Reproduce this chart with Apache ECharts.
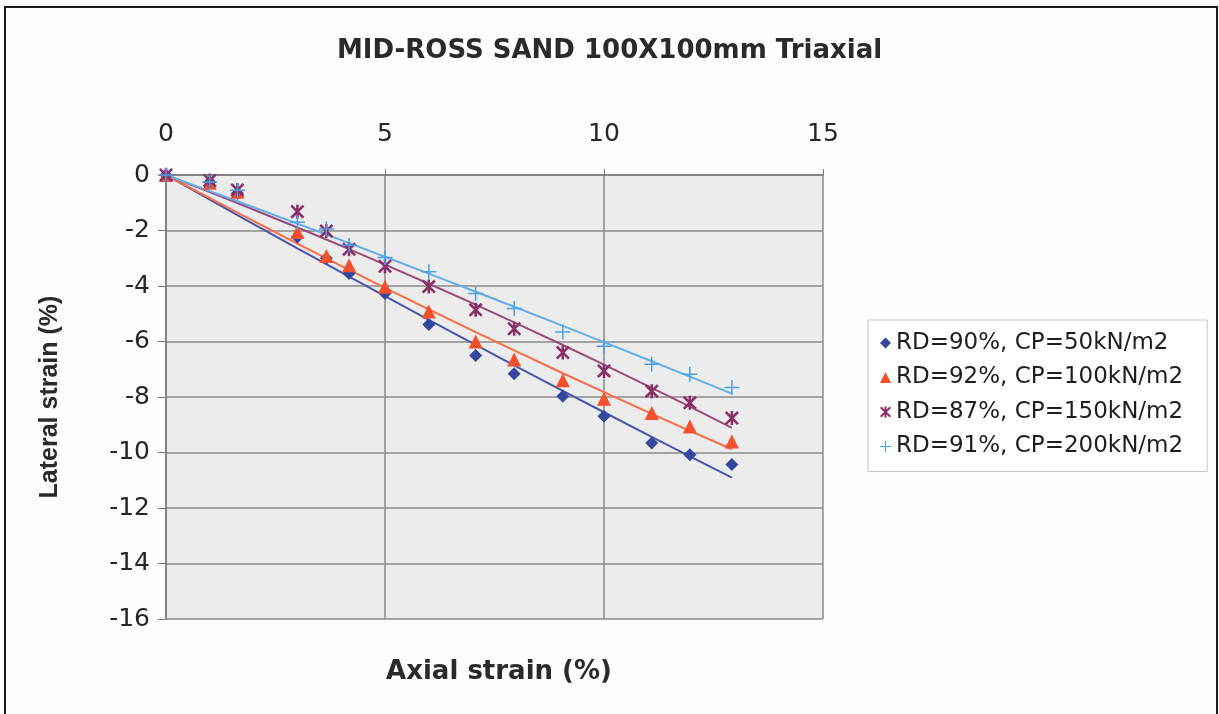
<!DOCTYPE html>
<html><head><meta charset="utf-8">
<script src="https://cdn.jsdelivr.net/npm/echarts@6/dist/echarts.min.js"></script>
<style>html,body{margin:0;padding:0;background:#fff}#c{width:1219px;height:714px}</style>
</head><body><div id="c"></div>
<script>
const chartTitle = 'MID-ROSS SAND 100X100mm Triaxial';
const xAxisTitle = 'Axial strain (%)';
const yAxisTitle = 'Lateral strain (%)';
const seriesNames = ['RD=90%, CP=50kN/m2', 'RD=92%, CP=100kN/m2', 'RD=87%, CP=150kN/m2', 'RD=91%, CP=200kN/m2'];
const axialStrain = [0, 1, 1.63, 3, 3.66, 4.18, 5, 6, 7.07, 7.95, 9.06, 10, 11.09, 11.96, 12.92];
const lateralRD90 = [0, -0.25, -0.66, -2.23, -3.0, -3.55, -4.27, -5.39, -6.5, -7.16, -7.97, -8.69, -9.66, -10.08, -10.43];
const lateralRD92 = [0, -0.28, -0.6, -2.05, -2.92, -3.25, -4.03, -4.92, -6.0, -6.65, -7.4, -8.06, -8.58, -9.06, -9.6];
const lateralRD87 = [0, -0.2, -0.54, -1.32, -2.02, -2.68, -3.29, -4.02, -4.86, -5.54, -6.4, -7.06, -7.79, -8.21, -8.76];
const lateralRD91 = [0, -0.25, -0.55, -1.7, -1.95, -2.53, -2.97, -3.49, -4.27, -4.81, -5.66, -6.17, -6.82, -7.18, -7.66];
const xTickRange = [0, 15, 5];
const yTickRange = [-16, 0, 2];

const markerColors = ['#34479f', '#f5502c', '#8a3066', '#4c9fe6'];
const lineColors = ['#4656ad', '#ff6a45', '#9a4d7c', '#63aeea'];
const starPath = 'path://M8.2,0H11.8V20H8.2Z M0,2.6L2.6,0L20,17.4L17.4,20Z M17.4,0L20,2.6L2.6,20L0,17.4Z';
const plusPath = 'path://M9,0H11V9H20V11H11V20H9V11H0V9H9Z';
const symbols = ['diamond', 'triangle', starPath, plusPath];
const symbolSizes = [13, 14, 14, 15];
const lateralSets = [lateralRD90, lateralRD92, lateralRD87, lateralRD91];

// polynomial (order 2, through origin) trendline evaluated at the data x positions
function trendFit(xs, ys) {
  let s2 = 0, s3 = 0, s4 = 0, t1 = 0, t2 = 0;
  for (let i = 0; i < xs.length; i++) {
    const x = xs[i], y = ys[i];
    s2 += x * x; s3 += x * x * x; s4 += x * x * x * x;
    t1 += x * y; t2 += x * x * y;
  }
  const det = s2 * s4 - s3 * s3;
  const a = (t1 * s4 - s3 * t2) / det;
  const b = (s2 * t2 - s3 * t1) / det;
  return xs.map(x => [x, a * x + b * x * x]);
}

const series = [];
lateralSets.forEach((ys, i) => {
  series.push({
    name: seriesNames[i] + ' trend', type: 'line', data: trendFit(axialStrain, ys),
    showSymbol: false, symbol: 'none', silent: true, z: 2,
    lineStyle: { color: lineColors[i], width: 2 }
  });
});
lateralSets.forEach((ys, i) => {
  series.push({
    name: seriesNames[i], type: 'scatter', data: axialStrain.map((x, j) => [x, ys[j]]),
    symbol: symbols[i], symbolSize: symbolSizes[i], z: 3,
    itemStyle: { color: markerColors[i], opacity: 1 }
  });
});

const chart = echarts.init(document.getElementById('c'), null, { renderer: 'canvas' });
chart.setOption({
  backgroundColor: '#fdfdfd',
  animation: false,
  title: [
    { text: chartTitle, left: 'center', top: 33,
      textStyle: { fontFamily: 'DejaVu Sans', fontWeight: 'bold', fontSize: 26, color: '#2a2a2a' } },
    { text: xAxisTitle, left: 494, top: 654, textAlign: 'center',
      textStyle: { fontFamily: 'DejaVu Sans', fontWeight: 'bold', fontSize: 26, color: '#2a2a2a' } }
  ],
  legend: {
    orient: 'vertical', left: 868, top: 320,
    padding: [11, 24, 13, 12], itemGap: 10.5, itemWidth: 11, itemHeight: 11,
    backgroundColor: '#ffffff', borderColor: '#c4c4c4', borderWidth: 1,
    textStyle: { fontFamily: 'DejaVu Sans', fontSize: 23, color: '#1e1e1e', lineHeight: 24 },
    data: seriesNames.map((n, i) => ({ name: n, icon: symbols[i], itemStyle: { color: markerColors[i] } })),
    selectedMode: false
  },
  grid: { left: 166, top: 175, width: 657, height: 444, show: true, backgroundColor: '#ececec', borderWidth: 0 },
  xAxis: {
    type: 'value', position: 'top', min: xTickRange[0], max: xTickRange[1], interval: xTickRange[2],
    axisLine: { show: true, lineStyle: { color: '#7a7a7a', width: 1.5 } },
    axisTick: { show: true, length: 6, lineStyle: { color: '#7a7a7a' } },
    axisLabel: { margin: 28, fontFamily: 'DejaVu Sans', fontSize: 25, color: '#262626' },
    splitLine: { show: true, lineStyle: { color: '#8a8a8a', width: 1.5 } }
  },
  yAxis: {
    type: 'value', min: yTickRange[0], max: yTickRange[1], interval: yTickRange[2],
    name: yAxisTitle, nameLocation: 'middle', nameRotate: 90, nameGap: 103,
    nameTextStyle: { fontFamily: 'Liberation Sans', fontWeight: 'bold', fontSize: 25, color: '#2a2a2a' },
    axisLine: { show: true, onZero: false, lineStyle: { color: '#7a7a7a', width: 1.5 } },
    axisTick: { show: true, length: 8, lineStyle: { color: '#7a7a7a' } },
    axisLabel: { margin: 16, fontFamily: 'DejaVu Sans', fontSize: 25, color: '#262626' },
    splitLine: { show: true, lineStyle: { color: '#8a8a8a', width: 1.5 } }
  },
  graphic: [{
    type: 'rect', silent: true, z: 100,
    shape: { x: 5, y: 7, width: 1212, height: 730 },
    style: { fill: null, stroke: '#1a1a1a', lineWidth: 2 }
  }],
  series: series
});
</script>
</body></html>
